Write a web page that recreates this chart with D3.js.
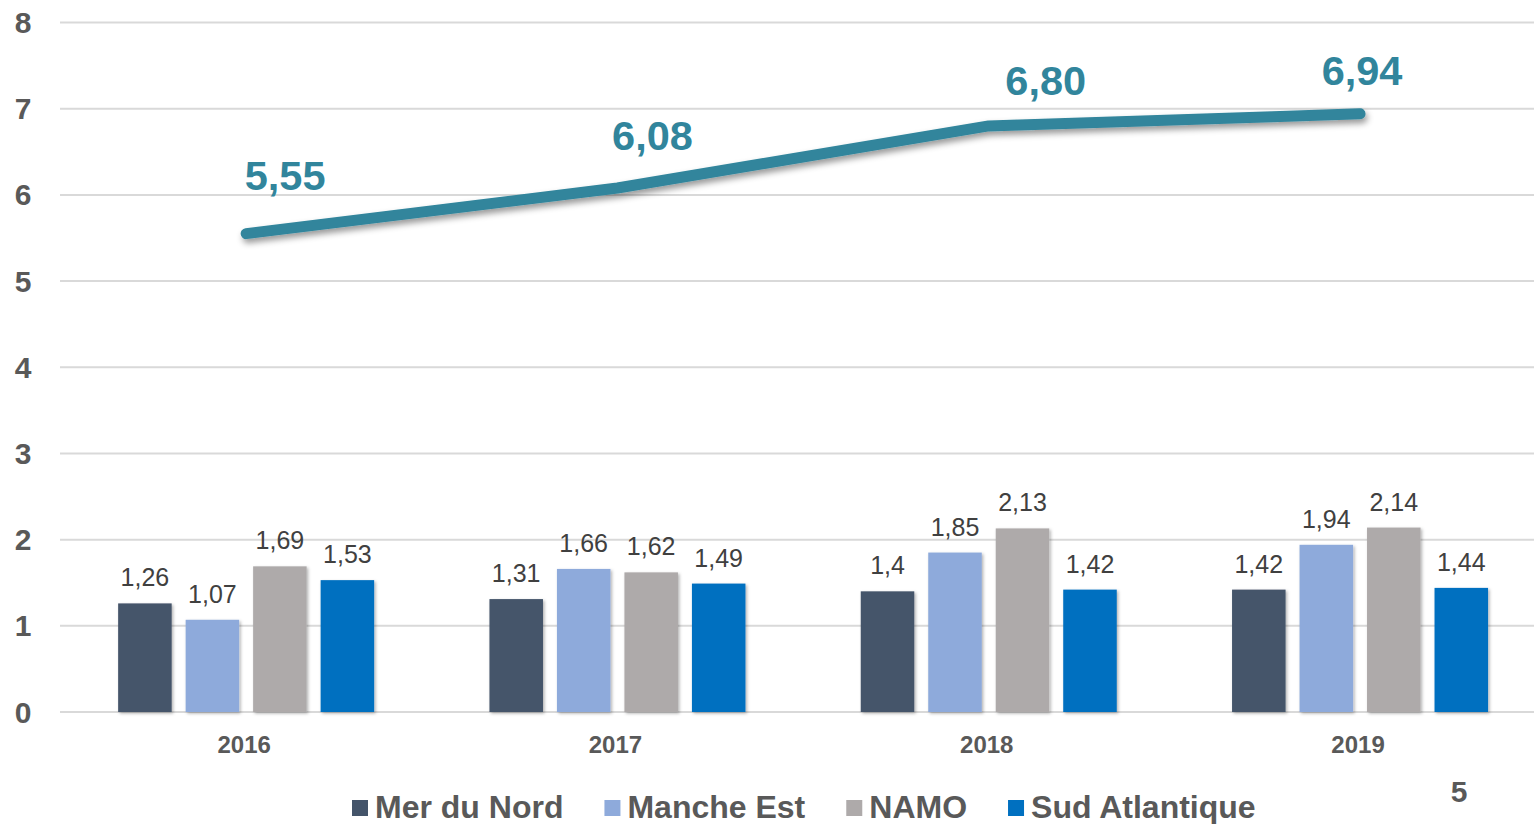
<!DOCTYPE html>
<html>
<head>
<meta charset="utf-8">
<script src="https://cdn.jsdelivr.net/npm/d3@7/dist/d3.min.js"></script>
<style>
  html, body { margin: 0; padding: 0; background: #ffffff; overflow: hidden; }
  svg { display: block; font-family: "Liberation Sans", Arial, sans-serif; }
</style>
</head>
<body>
<svg id="chart" width="1534" height="824"></svg>
<script>
// ---- data ----
const years = ["2016", "2017", "2018", "2019"];
const seriesNames = ["Mer du Nord", "Manche Est", "NAMO", "Sud Atlantique"];
const merDuNord = [1.26, 1.31, 1.40, 1.42];
const mancheEst = [1.07, 1.66, 1.85, 1.94];
const namo = [1.69, 1.62, 2.13, 2.14];
const sudAtlantique = [1.53, 1.49, 1.42, 1.44];
const totalLine = [5.55, 6.08, 6.80, 6.94];
const yTicks = [0, 1, 2, 3, 4, 5, 6, 7, 8];
const pageNumber = "5";

// ---- style ----
const seriesColors = ["#44546a", "#8eaadb", "#aeaaaa", "#0070c0"];
const lineColor = "#31859c";
const textGrey = "#595959";
const labelGrey = "#404040";
// manual label nudges for the line labels (layout, as placed in the source)
const lineLabelNudge = [[39, -44], [35, -38], [57, -31], [2, -29]];

const seriesValues = [merDuNord, mancheEst, namo, sudAtlantique];
const fmtBar = v => String(+v.toFixed(2)).replace(".", ",");
const fmtLine = v => v.toFixed(2).replace(".", ",");

const svg = d3.select("#chart");
const defs = svg.append("defs");
defs.append("filter").attr("id", "barShadow")
  .attr("x", "-20%").attr("y", "-20%").attr("width", "140%").attr("height", "140%")
  .append("feDropShadow").attr("dx", 1.5).attr("dy", 1.5).attr("stdDeviation", 1.5)
  .attr("flood-color", "#000").attr("flood-opacity", 0.3);
defs.append("filter").attr("id", "lineShadow")
  .attr("x", "-10%").attr("y", "-50%").attr("width", "120%").attr("height", "200%")
  .append("feDropShadow").attr("dx", 2).attr("dy", 4).attr("stdDeviation", 3)
  .attr("flood-color", "#000").attr("flood-opacity", 0.4);

const x0 = d3.scaleBand().domain(years).range([60.5, 1545.7]).padding(0);
const groupW = 256;
const x1 = d3.scaleBand().domain(seriesNames)
  .range([(x0.bandwidth() - groupW) / 2, (x0.bandwidth() + groupW) / 2])
  .paddingInner(0.207).paddingOuter(0);
const y = d3.scaleLinear().domain([0, 8]).range([712, 22.5]);

// gridlines
svg.append("g").selectAll("line").data(yTicks).join("line")
  .attr("x1", 60).attr("x2", 1534)
  .attr("y1", d => y(d)).attr("y2", d => y(d))
  .attr("stroke", "#d9d9d9").attr("stroke-width", 2);

// y-axis labels
svg.append("g").selectAll("text").data(yTicks).join("text")
  .attr("x", 23).attr("y", d => y(d) + 10.5)
  .attr("text-anchor", "middle")
  .attr("font-size", 30).attr("font-weight", "bold").attr("fill", textGrey)
  .text(d => d);

// bars
const flat = [];
years.forEach((yr, i) => seriesNames.forEach((s, j) => flat.push({ yr, s, j, v: seriesValues[j][i] })));
const gb = svg.append("g");
gb.selectAll("rect").data(flat).join("rect")
  .attr("x", d => x0(d.yr) + x1(d.s))
  .attr("y", d => y(d.v))
  .attr("width", x1.bandwidth())
  .attr("height", d => y(0) - y(d.v))
  .attr("fill", d => seriesColors[d.j])
  .attr("filter", "url(#barShadow)");
gb.selectAll("text").data(flat).join("text")
  .attr("x", d => x0(d.yr) + x1(d.s) + x1.bandwidth() / 2)
  .attr("y", d => y(d.v) - 17)
  .attr("text-anchor", "middle")
  .attr("font-size", 25).attr("fill", labelGrey)
  .text(d => fmtBar(d.v));

// x-axis labels
svg.append("g").selectAll("text").data(years).join("text")
  .attr("x", d => x0(d) + x0.bandwidth() / 2 - 2)
  .attr("y", 753)
  .attr("text-anchor", "middle")
  .attr("font-size", 24).attr("font-weight", "bold").attr("fill", textGrey)
  .text(d => d);

// line
const lineGen = d3.line().x((d, i) => x0(years[i]) + x0.bandwidth() / 2).y(d => y(d));
svg.append("path").datum(totalLine)
  .attr("d", lineGen)
  .attr("fill", "none").attr("stroke", lineColor).attr("stroke-width", 11)
  .attr("stroke-linecap", "round").attr("stroke-linejoin", "round")
  .attr("filter", "url(#lineShadow)");
svg.append("g").selectAll("text").data(totalLine).join("text")
  .attr("x", (d, i) => x0(years[i]) + x0.bandwidth() / 2 + lineLabelNudge[i][0])
  .attr("y", (d, i) => y(d) + lineLabelNudge[i][1])
  .attr("text-anchor", "middle")
  .attr("font-size", 41.5).attr("font-weight", "bold").attr("fill", lineColor)
  .text(d => fmtLine(d));

// legend
const lg = svg.append("g");
let lx = 352;
seriesNames.forEach((s, j) => {
  lg.append("rect").attr("x", lx).attr("y", 800).attr("width", 16).attr("height", 16)
    .attr("fill", seriesColors[j]);
  const t = lg.append("text").attr("x", lx + 23).attr("y", 818)
    .attr("font-size", 32).attr("font-weight", "bold").attr("fill", textGrey)
    .text(s);
  lx = lx + 23 + t.node().getComputedTextLength() + 41;
});

// page number
svg.append("text").attr("x", 1459).attr("y", 802)
  .attr("text-anchor", "middle")
  .attr("font-size", 30).attr("font-weight", "bold").attr("fill", textGrey)
  .text(pageNumber);
</script>
</body>
</html>
